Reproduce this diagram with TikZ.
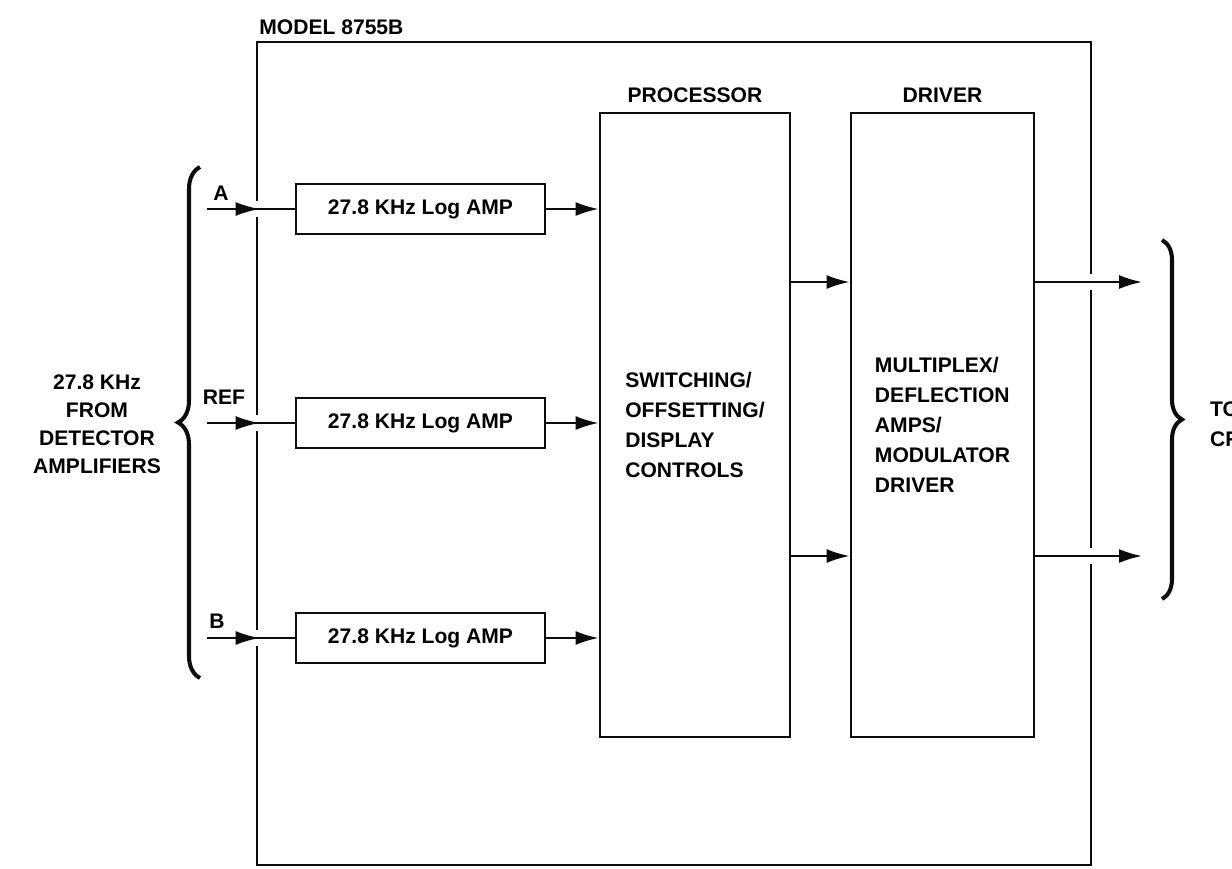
\documentclass[tikz,border=0pt]{standalone}
\usepackage{fontspec}
\setmainfont{Liberation Sans}
\usepackage{tikz}
\usetikzlibrary{arrows.meta,decorations.pathreplacing,decorations.markings,calc,positioning}
\usepackage{xcolor}
\definecolor{inkblack}{RGB}{12,12,12}

\begin{document}
\begin{tikzpicture}[x=0.02cm, y=-0.02cm,
    font=\bfseries\fontsize{12}{17}\selectfont,
    >={Latex[length=0.46cm,width=0.28cm]},
    blk/.style={draw=inkblack, line width=1.6pt, inner sep=0pt},
    amp/.style={blk, minimum width=4.98cm, minimum height=1cm},
    tall/.style={blk, minimum height=12.48cm, align=left},
    wire/.style={draw=inkblack, line width=1.2pt},
    gapL/.style={preaction={draw=white, -, line width=0.32cm, shorten >=0.5cm}},
    gapR/.style={preaction={draw=white, -, line width=0.32cm, shorten <=0.5cm}},
    midarrow/.style={postaction={decorate, decoration={markings,
      mark=at position #1 with {\arrow{Latex[length=0.48cm,width=0.28cm]}}}}},
    brc/.style={draw=inkblack, line width=2.3pt, decorate,
      decoration={brace, amplitude=#1}}]
        \useasboundingbox (0,0) rectangle (1232,869);
        % Model outline
        \coordinate (mtl) at (257,42);
        \coordinate (mbr) at (1091,865);
        \draw[blk] (mtl) rectangle (mbr);
        \node[anchor=base west, inner sep=0pt] (mdl) at (259,34) {MODEL 8755B};
        % Log amps
        \foreach \n/\y in {A/209,R/423,B/638}{
          \node[amp] (amp\n) at (420.5,\y) {27.8 KHz Log AMP};
          \coordinate (in\n) at (207,\y);
        }
        % Processor and driver
        \node[tall, minimum width=3.8cm] (proc) at (695,425)
          {SWITCHING/\\OFFSETTING/\\DISPLAY\\CONTROLS};
        \node[tall, minimum width=3.66cm] (drv) at (942.5,425)
          {MULTIPLEX/\\DEFLECTION\\AMPS/\\MODULATOR\\DRIVER};
        \node[above=0.06cm of proc] (proclbl) {PROCESSOR};
        \node[above=0.06cm of drv] (drvlbl) {DRIVER};
        % Inputs
        \foreach \n in {A,R,B}{
          \draw[wire, gapL, midarrow=0.6] (in\n) -- (amp\n.west);
          \draw[wire, ->] (amp\n) -- (proc.west |- amp\n);
        }
        \node (lblA) at (221,193) {A};
        \node (lblR) at (224,397) {REF};
        \node (lblB) at (217,621) {B};
        % Outputs
        \coordinate (outU) at (1142,282);
        \coordinate (outL) at (1142,556);
        \foreach \o in {outU,outL}{
          \draw[wire, ->] (proc.east |- \o) -- (drv.west |- \o);
          \draw[wire, gapR, ->] (drv.east |- \o) -- (\o);
        }
        % Braces
        \coordinate (brL1) at (200,678);
        \coordinate (brL2) at (200,167);
        \draw[brc=0.44cm] (brL1) -- (brL2);
        \coordinate (brR1) at (1162,240);
        \coordinate (brR2) at (1162,599);
        \draw[brc=0.4cm] (brR1) -- (brR2);
        % Side texts
        \node[align=center, font=\bfseries\fontsize{12}{16}\selectfont] (src)
          at (97,424) {27.8 KHz\\FROM\\DETECTOR\\AMPLIFIERS};
        \node[anchor=west, align=left] (dst) at (1204,424.5) {TO\\CRT};
      \end{tikzpicture}
\end{document}
